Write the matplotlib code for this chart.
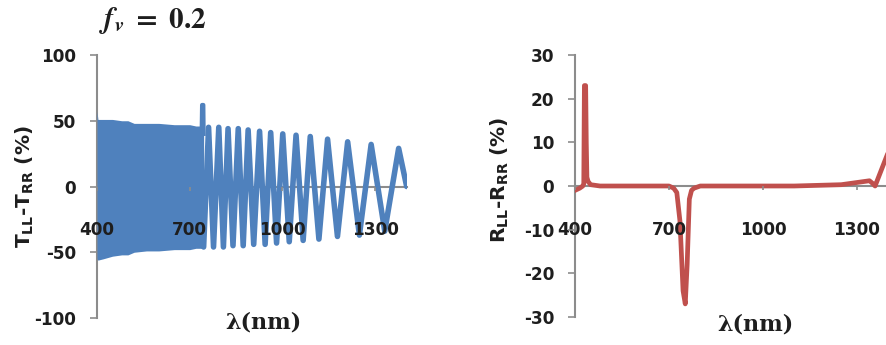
import matplotlib
matplotlib.use("Agg")
import matplotlib.pyplot as plt

plt.rcParams['mathtext.fontset'] = 'custom'
plt.rcParams['mathtext.rm'] = 'DejaVu Sans'
plt.rcParams['mathtext.bf'] = 'DejaVu Sans:bold'
plt.rcParams['mathtext.it'] = 'DejaVu Sans:italic'
plt.rcParams['axes.unicode_minus'] = False

# ---- Left panel data: dense band envelope (400-745 nm) ----
dense_wl = [400, 403, 420, 450, 480, 500, 520, 560, 600, 650, 700, 720, 745]
dense_up = [57, 51, 51, 51, 50, 50, 48, 48, 48, 47, 47, 46, 46]
dense_lo = [-55, -56, -55, -53, -52, -52, -50, -49, -49, -48, -48, -47, -47]

# spike near 742 nm
spike_wl = [739, 740, 741, 744, 745]
spike_val = [46, 62, 62, 62, 40]

# oscillating part (extrema)
osc_wl = [745, 761, 777, 794, 809, 824, 840, 857, 873, 889, 907, 926, 944, 962,
          981, 1001, 1022, 1044, 1067, 1090, 1118, 1146, 1178, 1211, 1249, 1287,
          1331, 1376, 1402]
osc_val = [-46, 45, -46, 45, -46, 44, -45, 44, -45, 43, -44, 42, -44, 41,
           -43, 40, -42, 39, -41, 38, -40, 36, -38, 34, -37, 32,
           -34, 29, 0]

# ---- Right panel data ----
r_wl = [400, 415, 425, 428, 430, 434, 436, 438, 442, 450, 480, 600, 700, 715,
        725, 735, 745, 752, 758, 765, 772, 780, 800, 900, 1000, 1100, 1200,
        1250, 1300, 1320, 1340, 1350, 1358, 1396]
r_val = [-1, -0.5, 0, 0.5, 23, 23, 10, 2, 1, 0.3, 0, 0, 0, -0.5,
         -1.5, -8, -24, -27, -18, -3, -1, -0.5, 0, 0, 0, 0, 0.2,
         0.3, 0.8, 1.0, 1.2, 0.6, 0, 7]

left_yticks = [-100, -50, 0, 50, 100]
right_yticks = [-30, -20, -10, 0, 10, 20, 30]
xticks = [400, 700, 1000, 1300]

blue = '#4F81BD'
red = '#C0504D'
spine_c = '#8c8c8c'
txt_c = '#1e1e1e'

fig = plt.figure(figsize=(8.87, 3.45), dpi=100)

ax1 = fig.add_axes([97/887, 1-318/345, 310/887, (318-55)/345])
ax2 = fig.add_axes([575/887, 1-317/345, (887-575)/887, (317-55)/345])

def style(ax, yt, ylim, xlim):
    ax.set_xlim(*xlim)
    ax.set_ylim(*ylim)
    ax.set_yticks(yt)
    ax.set_xticks(xticks)
    for s in ['top', 'right']:
        ax.spines[s].set_visible(False)
    ax.spines['bottom'].set_position(('data', 0))
    for s in ['left', 'bottom']:
        ax.spines[s].set_color(spine_c)
        ax.spines[s].set_linewidth(1.5)
        ax.spines[s].set_zorder(2)
    ax.tick_params(axis='y', direction='out', length=5, width=1.2, color=spine_c, pad=10)
    ax.tick_params(axis='x', direction='out', length=3, width=1.2, color=spine_c, pad=22)
    for lab in ax.get_xticklabels() + ax.get_yticklabels():
        lab.set_fontfamily('DejaVu Sans')
        lab.set_fontweight('bold')
        lab.set_fontsize(12.2)
        lab.set_color(txt_c)
    ax.xaxis.set_zorder(5)
    ax.yaxis.set_zorder(5)

style(ax1, left_yticks, (-100, 100), (400, 1403))
ax1.fill_between(dense_wl, dense_lo, dense_up, color=blue, lw=0, zorder=3)
ax1.plot(spike_wl, spike_val, color=blue, lw=3.0, zorder=3, solid_joinstyle='round')
ax1.plot(osc_wl, osc_val, color=blue, lw=4.0, zorder=3, solid_joinstyle='round',
         solid_capstyle='round')

style(ax2, right_yticks, (-30, 30), (400, 1396))
ax2.plot(r_wl, r_val, color=red, lw=3.4, zorder=3, solid_joinstyle='round')

# y labels
fig.text(25/887, 1-187/345, r'T$_{\mathbf{LL}}$-T$_{\mathbf{RR}}$ (%)', rotation=90,
         ha='center', va='center', fontsize=14.5, fontweight='bold', family='DejaVu Sans', color=txt_c)
fig.text(500/887, 1-180/345, r'R$_{\mathbf{LL}}$-R$_{\mathbf{RR}}$ (%)', rotation=90,
         ha='center', va='center', fontsize=14.5, fontweight='bold', family='DejaVu Sans', color=txt_c)

# x labels
fig.text(263/887, 1-322/345, 'λ(nm)', ha='center', va='center', fontsize=16,
         fontweight='bold', family='DejaVu Serif', color=txt_c)
fig.text(755/887, 1-325/345, 'λ(nm)', ha='center', va='center', fontsize=16,
         fontweight='bold', family='DejaVu Serif', color=txt_c)

# title
fig.text(153/887, 1-20/345, r'$\mathbfit{f}_{\mathbfit{v}}\mathbf{\ =\ 0.2}$', ha='center', va='center',
         fontsize=21, math_fontfamily='stix', color=txt_c)

fig.savefig('out.png', dpi=100)
